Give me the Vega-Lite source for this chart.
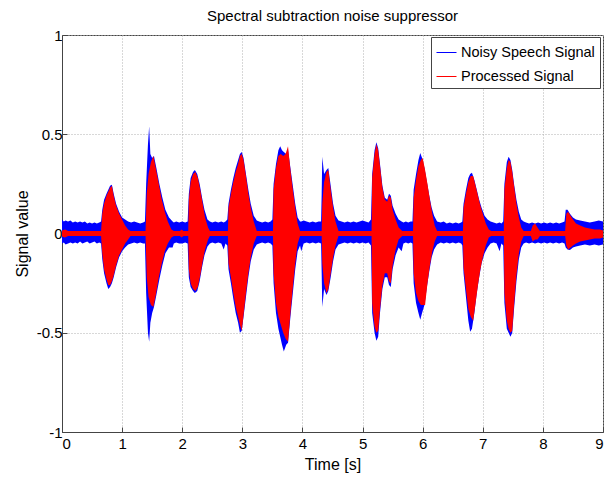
{
  "$schema": "https://vega.github.io/schema/vega-lite/v6.json",
  "width": 541,
  "height": 397,
  "autosize": {"type": "none"},
  "padding": {"left": 62, "top": 35, "right": 13, "bottom": 45},
  "background": "white",
  "title": {"text": "Spectral subtraction noise suppressor", "fontSize": 15, "fontWeight": "normal", "color": "#000", "offset": 4, "font": "Liberation Sans"},
  "config": {
    "font": "Liberation Sans",
    "view": {"stroke": "#444", "strokeWidth": 1},
    "axis": {
      "domainColor": "#444", "tickColor": "#444", "tickSize": -5,
      "labelColor": "#000", "labelFontSize": 15, "titleFontSize": 16, "titleFontWeight": "normal", "titleColor": "#000",
      "labelFont": "Liberation Sans", "titleFont": "Liberation Sans",
      "gridColor": "#b0b0b0", "gridDash": [1, 2], "gridWidth": 1
    }
  },
  "datasets": {
    "noisy": [
      {"t":0,"lo":-0.05,"hi":0.07},{"t":0.03,"lo":-0.045,"hi":0.06},{"t":0.06,"lo":-0.055,"hi":0.065},{"t":0.1,"lo":-0.05,"hi":0.06},{"t":0.14,"lo":-0.045,"hi":0.065},{"t":0.18,"lo":-0.05,"hi":0.055},{"t":0.22,"lo":-0.045,"hi":0.06},{"t":0.26,"lo":-0.05,"hi":0.055},{"t":0.3,"lo":-0.04,"hi":0.06},{"t":0.34,"lo":-0.05,"hi":0.055},{"t":0.38,"lo":-0.045,"hi":0.06},{"t":0.42,"lo":-0.04,"hi":0.05},{"t":0.46,"lo":-0.05,"hi":0.055},{"t":0.5,"lo":-0.045,"hi":0.05},{"t":0.54,"lo":-0.04,"hi":0.055},{"t":0.58,"lo":-0.05,"hi":0.05},{"t":0.62,"lo":-0.045,"hi":0.055},
      {"t":0.65,"lo":-0.05,"hi":0.06},{"t":0.67,"lo":-0.13,"hi":0.12},{"t":0.7,"lo":-0.2,"hi":0.17},{"t":0.74,"lo":-0.25,"hi":0.2},{"t":0.77,"lo":-0.28,"hi":0.22},{"t":0.8,"lo":-0.27,"hi":0.24},{"t":0.83,"lo":-0.25,"hi":0.245},{"t":0.86,"lo":-0.22,"hi":0.2},{"t":0.9,"lo":-0.17,"hi":0.15},{"t":0.95,"lo":-0.12,"hi":0.11},{"t":1.0,"lo":-0.09,"hi":0.08},{"t":1.05,"lo":-0.07,"hi":0.07},{"t":1.1,"lo":-0.055,"hi":0.06},
      {"t":1.15,"lo":-0.05,"hi":0.055},{"t":1.2,"lo":-0.045,"hi":0.06},{"t":1.25,"lo":-0.05,"hi":0.055},{"t":1.3,"lo":-0.045,"hi":0.05},{"t":1.35,"lo":-0.05,"hi":0.055},
      {"t":1.38,"lo":-0.05,"hi":0.06},{"t":1.4,"lo":-0.3,"hi":0.25},{"t":1.43,"lo":-0.5,"hi":0.45},{"t":1.45,"lo":-0.545,"hi":0.54},{"t":1.47,"lo":-0.45,"hi":0.4},{"t":1.5,"lo":-0.4,"hi":0.38},{"t":1.53,"lo":-0.37,"hi":0.39},{"t":1.57,"lo":-0.31,"hi":0.33},{"t":1.62,"lo":-0.23,"hi":0.25},{"t":1.67,"lo":-0.16,"hi":0.18},{"t":1.72,"lo":-0.1,"hi":0.12},{"t":1.78,"lo":-0.07,"hi":0.08},{"t":1.84,"lo":-0.07,"hi":0.06},{"t":1.86,"lo":-0.05,"hi":0.055},
      {"t":1.9,"lo":-0.045,"hi":0.06},{"t":1.95,"lo":-0.05,"hi":0.055},{"t":2.0,"lo":-0.05,"hi":0.06},{"t":2.05,"lo":-0.045,"hi":0.055},
      {"t":2.09,"lo":-0.05,"hi":0.06},{"t":2.11,"lo":-0.22,"hi":0.2},{"t":2.14,"lo":-0.27,"hi":0.28},{"t":2.18,"lo":-0.29,"hi":0.31},{"t":2.21,"lo":-0.3,"hi":0.32},{"t":2.25,"lo":-0.29,"hi":0.3},{"t":2.29,"lo":-0.24,"hi":0.25},{"t":2.33,"lo":-0.17,"hi":0.18},{"t":2.37,"lo":-0.11,"hi":0.12},{"t":2.42,"lo":-0.065,"hi":0.07},{"t":2.46,"lo":-0.05,"hi":0.06},
      {"t":2.5,"lo":-0.045,"hi":0.055},{"t":2.55,"lo":-0.05,"hi":0.06},{"t":2.6,"lo":-0.045,"hi":0.055},{"t":2.65,"lo":-0.05,"hi":0.06},{"t":2.69,"lo":-0.08,"hi":0.055},{"t":2.72,"lo":-0.05,"hi":0.06},
      {"t":2.75,"lo":-0.06,"hi":0.07},{"t":2.77,"lo":-0.18,"hi":0.15},{"t":2.81,"lo":-0.25,"hi":0.22},{"t":2.85,"lo":-0.33,"hi":0.28},{"t":2.89,"lo":-0.4,"hi":0.33},{"t":2.93,"lo":-0.45,"hi":0.37},{"t":2.96,"lo":-0.5,"hi":0.4},{"t":2.99,"lo":-0.49,"hi":0.41},{"t":3.02,"lo":-0.42,"hi":0.38},{"t":3.06,"lo":-0.32,"hi":0.3},{"t":3.1,"lo":-0.22,"hi":0.22},{"t":3.14,"lo":-0.14,"hi":0.15},{"t":3.19,"lo":-0.08,"hi":0.09},{"t":3.24,"lo":-0.055,"hi":0.065},
      {"t":3.28,"lo":-0.05,"hi":0.06},{"t":3.33,"lo":-0.045,"hi":0.055},{"t":3.38,"lo":-0.05,"hi":0.06},{"t":3.43,"lo":-0.045,"hi":0.055},{"t":3.47,"lo":-0.05,"hi":0.06},
      {"t":3.5,"lo":-0.06,"hi":0.07},{"t":3.52,"lo":-0.25,"hi":0.25},{"t":3.56,"lo":-0.4,"hi":0.35},{"t":3.6,"lo":-0.48,"hi":0.42},{"t":3.63,"lo":-0.52,"hi":0.44},{"t":3.66,"lo":-0.56,"hi":0.42},{"t":3.69,"lo":-0.595,"hi":0.41},{"t":3.73,"lo":-0.56,"hi":0.4},{"t":3.76,"lo":-0.55,"hi":0.42},{"t":3.8,"lo":-0.42,"hi":0.33},{"t":3.84,"lo":-0.3,"hi":0.24},{"t":3.88,"lo":-0.18,"hi":0.15},{"t":3.92,"lo":-0.09,"hi":0.08},{"t":3.96,"lo":-0.06,"hi":0.06},
      {"t":3.98,"lo":-0.09,"hi":0.06},{"t":4.02,"lo":-0.05,"hi":0.065},{"t":4.07,"lo":-0.045,"hi":0.06},{"t":4.12,"lo":-0.05,"hi":0.055},{"t":4.17,"lo":-0.045,"hi":0.06},{"t":4.22,"lo":-0.05,"hi":0.055},{"t":4.27,"lo":-0.045,"hi":0.06},{"t":4.31,"lo":-0.05,"hi":0.06},
      {"t":4.32,"lo":-0.2,"hi":0.2},{"t":4.33,"lo":-0.37,"hi":0.387},{"t":4.36,"lo":-0.28,"hi":0.3},{"t":4.4,"lo":-0.31,"hi":0.32},{"t":4.43,"lo":-0.29,"hi":0.33},{"t":4.47,"lo":-0.22,"hi":0.24},{"t":4.51,"lo":-0.14,"hi":0.15},{"t":4.55,"lo":-0.08,"hi":0.09},{"t":4.6,"lo":-0.055,"hi":0.065},
      {"t":4.65,"lo":-0.05,"hi":0.06},{"t":4.7,"lo":-0.045,"hi":0.055},{"t":4.75,"lo":-0.05,"hi":0.06},{"t":4.8,"lo":-0.045,"hi":0.055},{"t":4.85,"lo":-0.05,"hi":0.06},{"t":4.9,"lo":-0.045,"hi":0.055},{"t":4.95,"lo":-0.05,"hi":0.06},{"t":5.0,"lo":-0.045,"hi":0.065},{"t":5.05,"lo":-0.05,"hi":0.06},{"t":5.1,"lo":-0.045,"hi":0.055},
      {"t":5.14,"lo":-0.06,"hi":0.07},{"t":5.16,"lo":-0.4,"hi":0.3},{"t":5.2,"lo":-0.5,"hi":0.42},{"t":5.23,"lo":-0.54,"hi":0.46},{"t":5.26,"lo":-0.52,"hi":0.43},{"t":5.29,"lo":-0.4,"hi":0.35},{"t":5.33,"lo":-0.28,"hi":0.24},{"t":5.37,"lo":-0.22,"hi":0.18},{"t":5.41,"lo":-0.22,"hi":0.17},{"t":5.44,"lo":-0.26,"hi":0.2},{"t":5.47,"lo":-0.27,"hi":0.19},{"t":5.5,"lo":-0.18,"hi":0.14},{"t":5.55,"lo":-0.11,"hi":0.1},{"t":5.6,"lo":-0.07,"hi":0.07},{"t":5.65,"lo":-0.09,"hi":0.06},{"t":5.68,"lo":-0.05,"hi":0.055},
      {"t":5.72,"lo":-0.045,"hi":0.06},{"t":5.76,"lo":-0.05,"hi":0.055},{"t":5.8,"lo":-0.045,"hi":0.06},
      {"t":5.83,"lo":-0.05,"hi":0.06},{"t":5.85,"lo":-0.25,"hi":0.22},{"t":5.89,"lo":-0.35,"hi":0.3},{"t":5.93,"lo":-0.4,"hi":0.37},{"t":5.96,"lo":-0.435,"hi":0.405},{"t":5.99,"lo":-0.4,"hi":0.38},{"t":6.03,"lo":-0.36,"hi":0.33},{"t":6.07,"lo":-0.27,"hi":0.26},{"t":6.11,"lo":-0.19,"hi":0.19},{"t":6.15,"lo":-0.12,"hi":0.13},{"t":6.19,"lo":-0.08,"hi":0.09},{"t":6.24,"lo":-0.055,"hi":0.06},
      {"t":6.3,"lo":-0.045,"hi":0.055},{"t":6.35,"lo":-0.05,"hi":0.06},{"t":6.4,"lo":-0.045,"hi":0.05},{"t":6.45,"lo":-0.05,"hi":0.055},{"t":6.5,"lo":-0.045,"hi":0.05},{"t":6.55,"lo":-0.05,"hi":0.055},{"t":6.6,"lo":-0.045,"hi":0.05},{"t":6.64,"lo":-0.05,"hi":0.055},
      {"t":6.66,"lo":-0.06,"hi":0.06},{"t":6.68,"lo":-0.2,"hi":0.15},{"t":6.72,"lo":-0.32,"hi":0.22},{"t":6.76,"lo":-0.44,"hi":0.28},{"t":6.79,"lo":-0.495,"hi":0.3},{"t":6.82,"lo":-0.48,"hi":0.306},{"t":6.86,"lo":-0.4,"hi":0.27},{"t":6.9,"lo":-0.3,"hi":0.22},{"t":6.94,"lo":-0.22,"hi":0.17},{"t":6.98,"lo":-0.15,"hi":0.13},{"t":7.03,"lo":-0.1,"hi":0.09},{"t":7.08,"lo":-0.07,"hi":0.07},{"t":7.13,"lo":-0.05,"hi":0.06},
      {"t":7.18,"lo":-0.045,"hi":0.055},{"t":7.23,"lo":-0.05,"hi":0.05},{"t":7.28,"lo":-0.09,"hi":0.055},{"t":7.31,"lo":-0.05,"hi":0.05},
      {"t":7.34,"lo":-0.06,"hi":0.06},{"t":7.36,"lo":-0.35,"hi":0.25},{"t":7.4,"lo":-0.48,"hi":0.36},{"t":7.43,"lo":-0.5,"hi":0.387},{"t":7.46,"lo":-0.52,"hi":0.37},{"t":7.49,"lo":-0.5,"hi":0.32},{"t":7.52,"lo":-0.38,"hi":0.25},{"t":7.56,"lo":-0.24,"hi":0.17},{"t":7.6,"lo":-0.13,"hi":0.11},{"t":7.64,"lo":-0.07,"hi":0.07},{"t":7.68,"lo":-0.05,"hi":0.06},
      {"t":7.72,"lo":-0.045,"hi":0.055},{"t":7.77,"lo":-0.05,"hi":0.05},{"t":7.82,"lo":-0.045,"hi":0.055},{"t":7.87,"lo":-0.05,"hi":0.05},{"t":7.92,"lo":-0.045,"hi":0.055},{"t":7.97,"lo":-0.05,"hi":0.05},{"t":8.02,"lo":-0.045,"hi":0.055},{"t":8.07,"lo":-0.05,"hi":0.05},{"t":8.12,"lo":-0.045,"hi":0.055},{"t":8.17,"lo":-0.05,"hi":0.05},{"t":8.22,"lo":-0.045,"hi":0.055},{"t":8.27,"lo":-0.05,"hi":0.05},{"t":8.32,"lo":-0.045,"hi":0.055},
      {"t":8.36,"lo":-0.05,"hi":0.06},{"t":8.38,"lo":-0.07,"hi":0.12},{"t":8.41,"lo":-0.08,"hi":0.12},{"t":8.45,"lo":-0.083,"hi":0.1},{"t":8.5,"lo":-0.07,"hi":0.08},{"t":8.55,"lo":-0.065,"hi":0.07},{"t":8.62,"lo":-0.06,"hi":0.065},{"t":8.7,"lo":-0.055,"hi":0.06},{"t":8.78,"lo":-0.06,"hi":0.055},{"t":8.86,"lo":-0.055,"hi":0.06},{"t":8.93,"lo":-0.06,"hi":0.065},{"t":9.0,"lo":-0.055,"hi":0.06}
    ],
    "processed": [
      {"t":0,"lo":-0.015,"hi":0.015},{"t":0.05,"lo":-0.02,"hi":0.02},{"t":0.1,"lo":-0.012,"hi":0.012},{"t":0.65,"lo":-0.012,"hi":0.012},
      {"t":0.67,"lo":-0.1,"hi":0.1},{"t":0.7,"lo":-0.18,"hi":0.15},{"t":0.74,"lo":-0.23,"hi":0.19},{"t":0.77,"lo":-0.26,"hi":0.21},{"t":0.8,"lo":-0.26,"hi":0.23},{"t":0.83,"lo":-0.24,"hi":0.24},{"t":0.86,"lo":-0.21,"hi":0.19},{"t":0.9,"lo":-0.16,"hi":0.14},{"t":0.95,"lo":-0.11,"hi":0.1},{"t":1.0,"lo":-0.08,"hi":0.07},{"t":1.05,"lo":-0.05,"hi":0.04},{"t":1.1,"lo":-0.03,"hi":0.02},{"t":1.14,"lo":-0.012,"hi":0.012},
      {"t":1.39,"lo":-0.012,"hi":0.012},
      {"t":1.41,"lo":-0.22,"hi":0.2},{"t":1.44,"lo":-0.32,"hi":0.3},{"t":1.48,"lo":-0.36,"hi":0.36},{"t":1.52,"lo":-0.37,"hi":0.39},{"t":1.56,"lo":-0.31,"hi":0.33},{"t":1.61,"lo":-0.22,"hi":0.25},{"t":1.66,"lo":-0.15,"hi":0.17},{"t":1.71,"lo":-0.09,"hi":0.11},{"t":1.76,"lo":-0.05,"hi":0.06},{"t":1.82,"lo":-0.02,"hi":0.02},{"t":1.86,"lo":-0.012,"hi":0.012},
      {"t":1.96,"lo":-0.012,"hi":0.012},{"t":1.99,"lo":-0.02,"hi":0.02},{"t":2.02,"lo":-0.012,"hi":0.012},{"t":2.1,"lo":-0.012,"hi":0.012},
      {"t":2.11,"lo":-0.18,"hi":0.17},{"t":2.14,"lo":-0.25,"hi":0.26},{"t":2.18,"lo":-0.28,"hi":0.3},{"t":2.22,"lo":-0.29,"hi":0.31},{"t":2.26,"lo":-0.27,"hi":0.28},{"t":2.3,"lo":-0.21,"hi":0.22},{"t":2.34,"lo":-0.14,"hi":0.15},{"t":2.38,"lo":-0.08,"hi":0.08},{"t":2.43,"lo":-0.03,"hi":0.03},{"t":2.46,"lo":-0.012,"hi":0.012},
      {"t":2.76,"lo":-0.012,"hi":0.012},
      {"t":2.77,"lo":-0.15,"hi":0.13},{"t":2.81,"lo":-0.22,"hi":0.2},{"t":2.85,"lo":-0.3,"hi":0.26},{"t":2.89,"lo":-0.37,"hi":0.31},{"t":2.93,"lo":-0.42,"hi":0.35},{"t":2.96,"lo":-0.46,"hi":0.39},{"t":2.99,"lo":-0.49,"hi":0.4},{"t":3.02,"lo":-0.41,"hi":0.37},{"t":3.06,"lo":-0.3,"hi":0.29},{"t":3.1,"lo":-0.2,"hi":0.2},{"t":3.14,"lo":-0.12,"hi":0.13},{"t":3.19,"lo":-0.05,"hi":0.06},{"t":3.24,"lo":-0.012,"hi":0.012},
      {"t":3.51,"lo":-0.012,"hi":0.012},
      {"t":3.52,"lo":-0.2,"hi":0.22},{"t":3.56,"lo":-0.35,"hi":0.33},{"t":3.6,"lo":-0.42,"hi":0.39},{"t":3.64,"lo":-0.46,"hi":0.4},{"t":3.68,"lo":-0.5,"hi":0.39},{"t":3.72,"lo":-0.53,"hi":0.4},{"t":3.76,"lo":-0.545,"hi":0.44},{"t":3.8,"lo":-0.4,"hi":0.32},{"t":3.84,"lo":-0.27,"hi":0.22},{"t":3.88,"lo":-0.15,"hi":0.13},{"t":3.92,"lo":-0.05,"hi":0.05},{"t":3.96,"lo":-0.012,"hi":0.012},
      {"t":4.32,"lo":-0.012,"hi":0.012},
      {"t":4.33,"lo":-0.15,"hi":0.15},{"t":4.36,"lo":-0.25,"hi":0.26},{"t":4.4,"lo":-0.3,"hi":0.31},{"t":4.43,"lo":-0.28,"hi":0.32},{"t":4.47,"lo":-0.2,"hi":0.22},{"t":4.51,"lo":-0.12,"hi":0.13},{"t":4.55,"lo":-0.06,"hi":0.06},{"t":4.6,"lo":-0.012,"hi":0.012},
      {"t":5.15,"lo":-0.012,"hi":0.012},
      {"t":5.16,"lo":-0.35,"hi":0.28},{"t":5.2,"lo":-0.47,"hi":0.4},{"t":5.23,"lo":-0.5,"hi":0.45},{"t":5.26,"lo":-0.49,"hi":0.42},{"t":5.29,"lo":-0.38,"hi":0.34},{"t":5.33,"lo":-0.26,"hi":0.23},{"t":5.37,"lo":-0.2,"hi":0.17},{"t":5.41,"lo":-0.2,"hi":0.16},{"t":5.44,"lo":-0.24,"hi":0.19},{"t":5.47,"lo":-0.25,"hi":0.18},{"t":5.5,"lo":-0.16,"hi":0.12},{"t":5.55,"lo":-0.08,"hi":0.07},{"t":5.6,"lo":-0.03,"hi":0.03},{"t":5.66,"lo":-0.012,"hi":0.012},
      {"t":5.84,"lo":-0.012,"hi":0.012},
      {"t":5.85,"lo":-0.2,"hi":0.18},{"t":5.89,"lo":-0.3,"hi":0.27},{"t":5.93,"lo":-0.34,"hi":0.34},{"t":5.97,"lo":-0.36,"hi":0.37},{"t":6.0,"lo":-0.36,"hi":0.38},{"t":6.04,"lo":-0.36,"hi":0.32},{"t":6.08,"lo":-0.25,"hi":0.25},{"t":6.12,"lo":-0.16,"hi":0.17},{"t":6.16,"lo":-0.09,"hi":0.1},{"t":6.2,"lo":-0.04,"hi":0.04},{"t":6.24,"lo":-0.012,"hi":0.012},
      {"t":6.67,"lo":-0.012,"hi":0.012},
      {"t":6.68,"lo":-0.17,"hi":0.13},{"t":6.72,"lo":-0.28,"hi":0.2},{"t":6.76,"lo":-0.38,"hi":0.26},{"t":6.8,"lo":-0.42,"hi":0.29},{"t":6.84,"lo":-0.44,"hi":0.29},{"t":6.88,"lo":-0.35,"hi":0.24},{"t":6.92,"lo":-0.26,"hi":0.19},{"t":6.96,"lo":-0.18,"hi":0.14},{"t":7.0,"lo":-0.12,"hi":0.1},{"t":7.05,"lo":-0.06,"hi":0.05},{"t":7.1,"lo":-0.02,"hi":0.02},{"t":7.14,"lo":-0.012,"hi":0.012},
      {"t":7.35,"lo":-0.012,"hi":0.012},
      {"t":7.36,"lo":-0.3,"hi":0.22},{"t":7.4,"lo":-0.44,"hi":0.33},{"t":7.43,"lo":-0.48,"hi":0.37},{"t":7.46,"lo":-0.5,"hi":0.36},{"t":7.49,"lo":-0.49,"hi":0.31},{"t":7.52,"lo":-0.36,"hi":0.24},{"t":7.56,"lo":-0.21,"hi":0.15},{"t":7.6,"lo":-0.1,"hi":0.08},{"t":7.64,"lo":-0.04,"hi":0.03},{"t":7.68,"lo":-0.012,"hi":0.012},
      {"t":7.8,"lo":-0.012,"hi":0.012},{"t":7.83,"lo":-0.04,"hi":0.04},{"t":7.87,"lo":-0.03,"hi":0.05},{"t":7.91,"lo":-0.03,"hi":0.03},{"t":7.95,"lo":-0.012,"hi":0.012},
      {"t":8.37,"lo":-0.012,"hi":0.012},
      {"t":8.39,"lo":-0.06,"hi":0.1},{"t":8.42,"lo":-0.08,"hi":0.11},{"t":8.46,"lo":-0.07,"hi":0.09},{"t":8.5,"lo":-0.06,"hi":0.07},{"t":8.55,"lo":-0.05,"hi":0.05},{"t":8.62,"lo":-0.04,"hi":0.04},{"t":8.7,"lo":-0.035,"hi":0.03},{"t":8.78,"lo":-0.03,"hi":0.025},{"t":8.86,"lo":-0.025,"hi":0.02},{"t":8.95,"lo":-0.025,"hi":0.02},{"t":9.0,"lo":-0.02,"hi":0.015}
    ]
  },
  "encoding": {
    "x": {"field": "t", "type": "quantitative", "scale": {"domain": [0, 9], "nice": false, "zero": false},
      "axis": {"title": "Time [s]", "values": [0,1,2,3,4,5,6,7,8,9], "labelExpr": "'' + datum.value", "grid": true, "labelPadding": 9, "titlePadding": 5}},
    "y": {"field": "lo", "type": "quantitative", "scale": {"domain": [-1, 1], "nice": false},
      "axis": {"title": "Signal value", "values": [-1,-0.5,0,0.5,1], "labelExpr": "'' + datum.value", "grid": true, "labelPadding": 5, "titlePadding": 6}},
    "y2": {"field": "hi"}
  },
  "layer": [
    {
      "data": {"name": "noisy"},
      "mark": {"type": "area", "interpolate": "linear"},
      "encoding": {
        "color": {"datum": "Noisy Speech Signal", "type": "nominal",
          "scale": {"domain": ["Noisy Speech Signal", "Processed Signal"], "range": ["#0000ff", "#ff0000"]},
          "legend": {"orient": "none", "legendX": 369, "legendY": 2, "title": null, "symbolType": "stroke", "symbolSize": 400, "symbolStrokeWidth": 1,
            "labelFontSize": 14.5, "labelColor": "#000", "labelFont": "Liberation Sans",
            "padding": 5, "strokeColor": "#444", "fillColor": "#fff", "rowPadding": 7, "labelOffset": 4,
            "encode": {"symbols": {"update": {"stroke": {"scale": "color", "field": "value"}, "strokeWidth": {"value": 1}, "fill": {"value": "transparent"}, "fillOpacity": {"value": 0}}}}}
        }
      }
    },
    {
      "data": {"name": "processed"},
      "mark": {"type": "area", "interpolate": "linear"},
      "encoding": {
        "color": {"datum": "Processed Signal", "type": "nominal"}
      }
    }
  ]
}
